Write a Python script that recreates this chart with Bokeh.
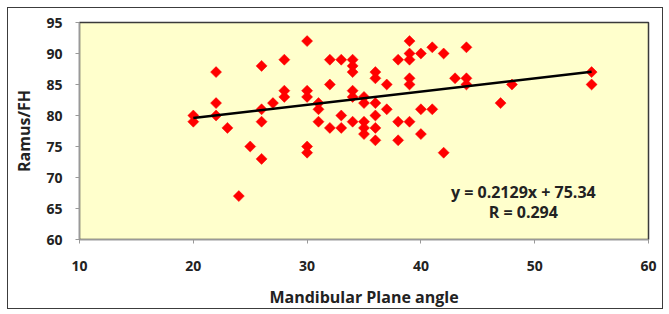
import math
from bokeh.plotting import figure
from bokeh.models import Range1d, FixedTicker, Label, ColumnDataSource
from bokeh.embed import file_html
from bokeh.resources import INLINE

# Data
mp_angle = [20, 20, 22, 22, 22, 23, 24, 25, 26, 26, 26, 26, 27, 28, 28, 28,
            30, 30, 30, 30, 30, 31, 31, 31, 32, 32, 32, 33, 33, 33,
            34, 34, 34, 34, 34, 34, 35, 35, 35, 35, 35, 36, 36, 36, 36, 36, 36,
            37, 37, 38, 38, 38, 39, 39, 39, 39, 39, 39, 40, 40, 40, 41, 41,
            42, 42, 43, 44, 44, 44, 47, 48, 55, 55]
ramus_fh = [80, 79, 87, 82, 80, 78, 67, 75, 88, 81, 79, 73, 82, 89, 84, 83,
            92, 84, 83, 75, 74, 82, 81, 79, 89, 85, 78, 89, 80, 78,
            89, 88, 87, 84, 83, 79, 83, 82, 79, 78, 77, 87, 86, 82, 80, 78, 76,
            85, 81, 89, 79, 76, 92, 90, 89, 86, 85, 79, 90, 81, 77, 91, 81,
            90, 74, 86, 91, 86, 85, 82, 85, 87, 85]

slope = 0.2129
intercept = 75.34
r_value = 0.294

x_ticks = [10, 20, 30, 40, 50, 60]
y_ticks = [60, 65, 70, 75, 80, 85, 90, 95]

trend_x = [min(mp_angle), max(mp_angle)]
trend_y = [slope * v + intercept for v in trend_x]

FONT = "Open Sans"

p = figure(width=656, height=302, x_range=Range1d(10, 60), y_range=Range1d(60, 95),
           output_backend="svg", toolbar_location=None,
           min_border_left=71, min_border_right=16, min_border_top=14, min_border_bottom=67)
p.styles = {"border": "1.5px solid #3c3c3c", "margin-left": "7px", "margin-top": "7px"}
p.background_fill_color = "#FFFFCC"
p.border_fill_color = "white"
p.outline_line_color = "#3a3a3a"
p.outline_line_width = 1.5
p.xgrid.visible = False
p.ygrid.visible = False

src = ColumnDataSource(dict(x=mp_angle, y=ramus_fh))
p.scatter("x", "y", source=src, marker="square", angle=math.pi / 4, size=7.8,
          fill_color="#FF0000", line_color="#FF0000", line_width=0.5)
p.line(trend_x, trend_y, line_color="black", line_width=2.6)

for ax in (p.xaxis, p.yaxis):
    ax.axis_line_color = "#999999"
    ax.axis_line_width = 1
    ax.major_tick_line_color = "#999999"
    ax.major_tick_out = 4
    ax.major_tick_in = 0
    ax.minor_tick_line_color = None
    ax.major_label_text_font = FONT
    ax.major_label_text_font_style = "bold"
    ax.major_label_text_font_size = "14px"
    ax.major_label_text_color = "#222222"
    ax.axis_label_text_font = FONT
    ax.axis_label_text_font_style = "bold"
    ax.axis_label_text_font_size = "16px"
    ax.axis_label_text_color = "#222222"

p.xaxis.ticker = FixedTicker(ticks=x_ticks)
p.yaxis.ticker = FixedTicker(ticks=y_ticks)
p.xaxis.axis_label = "Mandibular Plane angle"
p.yaxis.axis_label = "Ramus/FH"
p.xaxis.major_label_standoff = 17
p.yaxis.major_label_standoff = 13
p.xaxis.axis_label_standoff = 12
p.yaxis.axis_label_standoff = 8

eq_text = "y = %.4fx + %.2f" % (slope, intercept)
r_text = "R = %.3f" % r_value
p.add_layout(Label(x=49.0, y=67.6, text=eq_text, text_align="center", text_baseline="middle",
                   text_font=FONT, text_font_style="bold", text_font_size="16px",
                   text_color="#222222"))
p.add_layout(Label(x=49.0, y=64.4, text=r_text, text_align="center", text_baseline="middle",
                   text_font=FONT, text_font_style="bold", text_font_size="16px",
                   text_color="#222222"))

open("out.html", "w").write(file_html(p, INLINE))
